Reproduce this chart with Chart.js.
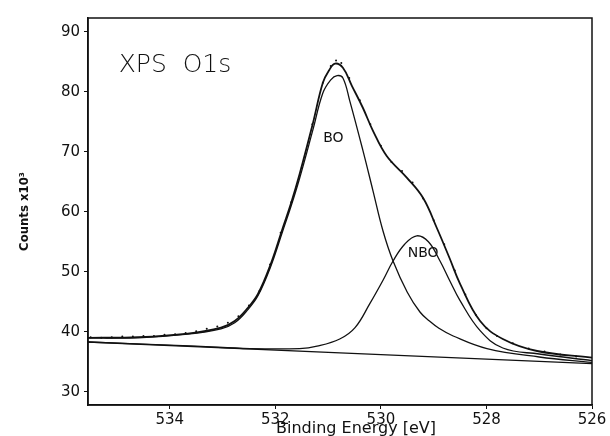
<!DOCTYPE html>
<html>
<head>
<meta charset="utf-8">
<script src="https://cdn.jsdelivr.net/npm/chart.js@4.4.1/dist/chart.umd.min.js"></script>
<style>
  html, body { margin: 0; padding: 0; background: #fff; }
  #wrap { width: 610px; height: 436px; position: relative; }
</style>
</head>
<body>
<div id="wrap"><canvas id="xps"></canvas></div>
<script>
// values (binding energy in eV, counts x10^3)
const xTicks = [534, 532, 530, 528, 526];
const yTicks = [30, 40, 50, 60, 70, 80, 90];

const totalE = [535.55, 534.6, 533.66, 533.03, 532.77, 532.52, 532.33, 532.1, 531.86, 531.7, 531.54, 531.29, 531.1, 530.98, 530.87, 530.72, 530.55, 530.34, 530.15, 529.89, 529.51, 529.2, 528.94, 528.7, 528.5, 528.12, 527.69, 527.04, 526.0];
const totalV = [39.0, 39.1, 39.7, 40.7, 41.8, 44.0, 46.3, 51.0, 57.3, 61.5, 66.3, 74.7, 81.5, 83.6, 84.7, 84.0, 81.0, 77.3, 73.5, 69.3, 65.7, 62.3, 57.3, 52.3, 48.0, 41.8, 38.8, 36.8, 35.7];

const boE = [535.55, 534.6, 533.66, 533.03, 532.77, 532.52, 532.33, 532.1, 531.86, 531.7, 531.54, 531.29, 531.1, 530.95, 530.83, 530.72, 530.59, 530.34, 530.15, 529.96, 529.77, 529.5, 529.26, 529.08, 528.9, 528.63, 527.99, 527.0, 526.0];
const boV = [39.0, 39.0, 39.6, 40.5, 41.5, 43.7, 46.0, 50.6, 56.8, 61.0, 65.6, 73.6, 79.8, 82.0, 82.7, 82.3, 78.5, 70.2, 63.5, 56.8, 51.8, 46.6, 43.3, 41.8, 40.6, 39.3, 37.2, 35.8, 34.9];

const nboE = [535.55, 533.5, 532.48, 531.54, 531.21, 530.78, 530.49, 530.21, 529.96, 529.77, 529.55, 529.32, 529.1, 528.88, 528.7, 528.5, 528.12, 527.69, 527.0, 526.0];
const nboV = [38.3, 37.6, 37.2, 37.2, 37.6, 38.8, 40.7, 44.7, 48.6, 51.8, 54.6, 56.0, 55.0, 51.8, 48.6, 45.2, 40.2, 37.3, 36.3, 35.2];

const bgE = [535.55, 526.0];
const bgV = [38.3, 34.7];

// measured points (dots along the envelope)
const dataE = [535.5, 535.3, 535.1, 534.9, 534.7, 534.5, 534.3, 534.1, 533.9, 533.7, 533.5, 533.3, 533.1, 532.9, 532.7, 532.5, 532.3, 532.1, 531.9, 531.7, 531.5, 531.3, 531.1, 530.95, 530.85, 530.75, 530.6, 530.4, 530.2, 530.0, 529.8, 529.6, 529.4, 529.2, 529.0, 528.8, 528.6, 528.4, 528.2, 528.0, 527.8, 527.5, 527.2, 526.9, 526.6, 526.3];
const dataV = [39.1, 39.0, 39.1, 39.2, 39.2, 39.3, 39.3, 39.5, 39.6, 39.8, 40.1, 40.5, 40.9, 41.5, 42.6, 44.4, 46.8, 51.2, 56.5, 61.6, 67.3, 74.6, 81.5, 84.3, 85.2, 84.8, 82.3, 78.6, 74.6, 71.0, 68.3, 66.8, 64.9, 62.2, 58.6, 54.6, 50.2, 46.2, 42.8, 40.6, 39.3, 38.1, 37.2, 36.7, 36.2, 35.9];

const pts = (xs, ys) => xs.map((x, i) => ({ x: x, y: ys[i] }));

const ink = '#111';

function line(label, xs, ys, width) {
  return {
    label: label,
    data: pts(xs, ys),
    borderColor: ink,
    borderWidth: width,
    pointRadius: 0,
    fill: false,
    tension: 0.4
  };
}

// frame, in-plot labels and the x title (sits right of centre in the scan)
const decor = {
  id: 'decor',
  afterDraw(chart) {
    const { ctx, chartArea: a, scales } = chart;
    ctx.save();
    ctx.strokeStyle = ink;
    ctx.lineWidth = 1.5;
    ctx.strokeRect(a.left, a.top, a.right - a.left, a.bottom - a.top);

    ctx.fillStyle = ink;
    ctx.textAlign = 'center';
    ctx.textBaseline = 'middle';
    ctx.font = '300 25px "DejaVu Sans"';
    ctx.fillText('XPS  O1s', 175, 65);

    ctx.font = '14px "DejaVu Sans"';
    ctx.fillText('BO', scales.x.getPixelForValue(530.9), scales.y.getPixelForValue(72.2));
    ctx.fillText('NBO', scales.x.getPixelForValue(529.2), scales.y.getPixelForValue(53));

    ctx.font = '16px "DejaVu Sans"';
    ctx.fillText('Binding Energy [eV]', 356, 429);
    ctx.restore();
  }
};

new Chart(document.getElementById('xps').getContext('2d'), {
  type: 'line',
  data: {
    datasets: [
      {
        label: 'data',
        data: pts(dataE, dataV),
        showLine: false,
        pointRadius: 1,
        pointBackgroundColor: ink,
        pointBorderWidth: 0
      },
      line('envelope', totalE, totalV, 1.8),
      line('BO', boE, boV, 1.3),
      line('NBO', nboE, nboV, 1.3),
      line('background', bgE, bgV, 1.3)
    ]
  },
  options: {
    responsive: true,
    maintainAspectRatio: false,
    animation: false,
    layout: { padding: { top: 18, right: 18, left: 0, bottom: 0 } },
    plugins: { legend: { display: false }, tooltip: { enabled: false } },
    scales: {
      x: {
        type: 'linear',
        reverse: true,
        min: 526,
        max: 535.55,
        afterBuildTicks: s => { s.ticks = xTicks.map(v => ({ value: v })); },
        afterFit: s => { s.height = 31; },
        grid: { drawOnChartArea: false, tickLength: 4, color: ink },
        border: { display: true, color: ink, width: 1.5 },
        ticks: { color: ink, padding: 2, font: { family: 'DejaVu Sans', size: 15 } }
      },
      y: {
        type: 'linear',
        min: 27.8,
        max: 92.3,
        afterBuildTicks: s => { s.ticks = yTicks.map(v => ({ value: v })); },
        afterFit: s => { s.width = 88; },
        grid: { drawOnChartArea: false, tickLength: 4, color: ink },
        border: { display: true, color: ink, width: 1.5 },
        ticks: { color: ink, padding: 4, font: { family: 'DejaVu Sans', size: 15 } },
        title: {
          display: true,
          text: 'Counts x10³',
          color: ink,
          padding: { top: 18, bottom: 0 },
          font: { family: '"DejaVu Sans Condensed", "DejaVu Sans", sans-serif', size: 13, weight: 'bold', lineHeight: 1 }
        }
      }
    }
  },
  plugins: [decor]
});
</script>
</body>
</html>
